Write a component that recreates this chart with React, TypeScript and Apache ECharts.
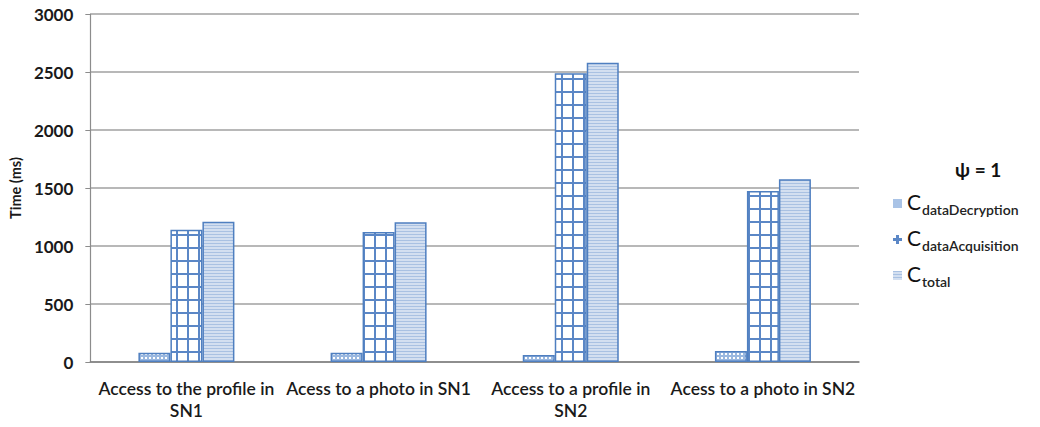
import React, { useEffect, useRef } from "react";
import * as echarts from "echarts";

// Categories (x axis)
const categories = [
  "Access to the profile in\nSN1",
  "Acess to a photo in SN1",
  "Access to a profile in\nSN2",
  "Acess to a photo in SN2",
];

// Series values in milliseconds
const seriesNames = ["dataDecryption", "dataAcquisition", "total"];
const dataDecryption = [80, 80, 60, 95];
const dataAcquisition = [1140, 1120, 2490, 1475];
const total = [1210, 1205, 2580, 1575];

const yMax = 3000;
const yInterval = 500;

const FONT = "Lato, 'Open Sans', sans-serif";
const BORDER = "#4f7fc0";

function makeTile(w: number, h: number, draw: (ctx: CanvasRenderingContext2D) => void) {
  const c = document.createElement("canvas");
  c.width = w;
  c.height = h;
  const ctx = c.getContext("2d")!;
  draw(ctx);
  return c;
}

export default function App() {
  const ref = useRef<HTMLDivElement>(null);

  useEffect(() => {
    if (!ref.current) return;
    const chart = echarts.init(ref.current, undefined, { renderer: "svg" });

    // small dotted grid
    const decTile = makeTile(4, 4, (ctx) => {
      ctx.fillStyle = "#9ab8e0";
      ctx.fillRect(0, 0, 4, 4);
      ctx.fillStyle = "#ffffff";
      ctx.fillRect(1, 1, 2, 2);
    });
    // large square grid
    const acqTile = makeTile(11, 13, (ctx) => {
      ctx.fillStyle = "#ffffff";
      ctx.fillRect(0, 0, 11, 13);
      ctx.fillStyle = "#5b87c6";
      ctx.fillRect(0, 0, 2, 13);
      ctx.fillRect(0, 0, 11, 2);
    });
    // horizontal stripes
    const totTile = makeTile(4, 3, (ctx) => {
      ctx.fillStyle = "#d3dff0";
      ctx.fillRect(0, 0, 4, 3);
      ctx.fillStyle = "#a9c1e2";
      ctx.fillRect(0, 0, 4, 1);
    });

    const pat = (img: HTMLCanvasElement) => ({ image: img, repeat: "repeat" } as any);
    const fills = [pat(decTile), pat(acqTile), pat(totTile)];
    const values = [dataDecryption, dataAcquisition, total];

    // legend swatches: dotted square, plus sign, striped square
    const legendItems = [
      { name: seriesNames[0], icon: "rect", itemStyle: { color: "#a9c3e6", borderWidth: 0 } },
      {
        name: seriesNames[1],
        icon: "path://M3,0H6V3H9V6H6V9H3V6H0V3H3Z",
        itemStyle: { color: "#5b87c6", borderWidth: 0 },
      },
      { name: seriesNames[2], icon: "rect", itemStyle: { color: fills[2], borderWidth: 0 } },
    ];

    chart.setOption({
      animation: false,
      textStyle: { fontFamily: FONT },
      title: {
        text: "ψ = 1",
        left: 950,
        top: 155,
        textStyle: { fontFamily: FONT, fontSize: 19, fontWeight: "bold", color: "#111" },
      },
      legend: {
        orient: "vertical",
        left: 888,
        top: 186,
        itemWidth: 9,
        itemHeight: 9,
        itemGap: 11,
        data: legendItems,
        formatter: (name: string) => `{c|C}{s|${name}}`,
        textStyle: {
          rich: {
            c: { fontFamily: FONT, fontSize: 21, color: "#111", verticalAlign: "bottom", padding: [0, 1, 4, 0] },
            s: { fontFamily: FONT, fontSize: 14, fontWeight: 600, color: "#222", verticalAlign: "bottom" },
          },
        },
      },
      grid: { left: 90, right: 181, top: 14, bottom: 65 },
      xAxis: {
        type: "category",
        data: categories,
        axisLine: { lineStyle: { color: "#808080", width: 1.5 } },
        axisTick: { show: false },
        axisLabel: {
          interval: 0,
          margin: 15,
          fontFamily: FONT,
          fontSize: 17.5,
          fontWeight: 600,
          color: "#1a1a1a",
          lineHeight: 22,
        },
      },
      yAxis: {
        type: "value",
        min: 0,
        max: yMax,
        interval: yInterval,
        name: "Time (ms)",
        nameLocation: "middle",
        nameGap: 65,
        nameRotate: 90,
        nameTextStyle: { fontFamily: FONT, fontSize: 14.5, fontWeight: "bold", color: "#1a1a1a" },
        axisLine: { show: true, lineStyle: { color: "#8c8c8c", width: 1.2 } },
        axisTick: { show: true, length: 5, lineStyle: { color: "#8c8c8c" } },
        splitLine: { lineStyle: { color: "#a0a0a0", width: 1.5 } },
        axisLabel: {
          margin: 17,
          fontFamily: FONT,
          fontSize: 17,
          fontWeight: "bold",
          color: "#1a1a1a",
          formatter: (v: number) => String(v),
        },
      },
      series: seriesNames.map((name, i) => ({
        name,
        type: "bar",
        data: values[i],
        barWidth: 32,
        barGap: "0%",
        itemStyle: { color: fills[i], borderColor: BORDER, borderWidth: 1.5 },
      })),
    });

    return () => chart.dispose();
  }, []);

  return <div ref={ref} style={{ width: 1040, height: 427, marginLeft: -8, marginTop: -8 }} />;
}
